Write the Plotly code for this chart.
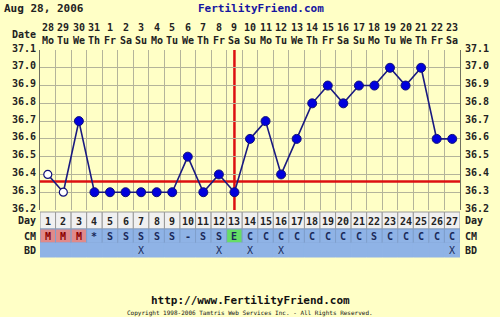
import plotly.graph_objects as go

days = list(range(1, 28))
dates = ["28", "29", "30", "31", "1", "2", "3", "4", "5", "6", "7", "8", "9", "10",
         "11", "12", "13", "14", "15", "16", "17", "18", "19", "20", "21", "22", "23"]
weekdays = (["Mo", "Tu", "We", "Th", "Fr", "Sa", "Su"] * 4)[:27]
temps = [36.4, 36.3, 36.7, 36.3, 36.3, 36.3, 36.3, 36.3, 36.3, 36.5, 36.3, 36.4, 36.3,
         36.6, 36.7, 36.4, 36.6, 36.8, 36.9, 36.8, 36.9, 36.9, 37.0, 36.9, 37.0, 36.6, 36.6]
open_days = [1, 2]
cm = ["M", "M", "M", "*", "S", "S", "S", "S", "S", "-", "S", "S", "E", "C", "C", "C",
      "C", "C", "C", "C", "C", "S", "C", "C", "C", "C", "C"]
bd = ["", "", "", "", "", "", "X", "", "", "", "", "X", "", "X", "", "X", "", "", "",
      "", "", "", "", "", "", "", "X"]
ytick_vals = [37.1, 37.0, 36.9, 36.8, 36.7, 36.6, 36.5, 36.4, 36.3, 36.2]
coverline = 36.36
ovulation_day = 13

W, H = 500, 317
ML, MR, MT, MB = 40, 40, 50, 60
PW, PH = W - ML - MR, H - MT - MB
def py(p):  # pixel y -> paper y
    return (H - MB - p) / PH
def px(p):
    return (p - ML) / PW

FONT = "DejaVu Sans Mono"
TXT = "#222222"

def ann(x, y, text, xref="paper", yref="paper", xanchor="center", size=10, color=TXT, yshift=0):
    return dict(x=x, y=y, xref=xref, yref=yref, text=text, showarrow=False,
                xanchor=xanchor, yanchor="middle", yshift=yshift,
                font=dict(family=FONT, size=size, color=color))

fig = go.Figure()
fig.add_trace(go.Scatter(x=days, y=temps, mode="lines",
                         line=dict(color="#1a1a80", width=1.6), hoverinfo="skip"))
filled_x = [d for d in days if d not in open_days]
filled_y = [temps[d - 1] for d in filled_x]
fig.add_trace(go.Scatter(x=filled_x, y=filled_y, mode="markers",
                         marker=dict(size=9, color="#0000dd", line=dict(color="#10107a", width=1))))
fig.add_trace(go.Scatter(x=open_days, y=[temps[d - 1] for d in open_days], mode="markers",
                         marker=dict(size=8, color="#ffffff", line=dict(color="#10107a", width=1.2))))

shapes = []
shapes.append(dict(type="line", xref="x", yref="y", x0=0.5, x1=27.5, y0=coverline, y1=coverline,
                   line=dict(color="#dd1010", width=2.5), layer="between"))
shapes.append(dict(type="line", xref="x", yref="paper", x0=ovulation_day, x1=ovulation_day,
                   y0=py(210), y1=1, line=dict(color="#dd1010", width=2.5), layer="between"))

rows = [(212, 229, "Day"), (229, 243, "CM"), (243, 257, "BD")]
annotations = []
for i, d in enumerate(days):
    x0, x1 = d - 0.5, d + 0.5
    shapes.append(dict(type="rect", xref="x", yref="paper", x0=x0, x1=x1, y0=py(229), y1=py(212),
                       fillcolor="#f0f0f0", line=dict(color="#9a9a9a", width=1), layer="above"))
    c = cm[i]
    fill = "#8fb3e6"
    if c == "M":
        fill = "#e08a8a"
    elif c == "E":
        fill = "#66dd66"
    shapes.append(dict(type="rect", xref="x", yref="paper", x0=x0, x1=x1, y0=py(243), y1=py(229),
                       fillcolor=fill, line=dict(color="#7f9fcc", width=1), layer="above"))
    shapes.append(dict(type="rect", xref="x", yref="paper", x0=x0, x1=x1, y0=py(257), y1=py(243),
                       fillcolor="#8fb3e6", line=dict(color="#8fb3e6", width=1), layer="above"))
    annotations.append(ann(d, py(221), "<b>%d</b>" % d, xref="x"))
    annotations.append(ann(d, py(236), "<b>%s</b>" % c, xref="x",
                           color="#8b0000" if c == "M" else "#1a2a5a"))
    if bd[i]:
        annotations.append(ann(d, py(250), bd[i], xref="x", color="#1a2a5a"))
    annotations.append(ann(d, py(28), "<b>%s</b>" % dates[i], xref="x"))
    annotations.append(ann(d, py(40), "<b>%s</b>" % weekdays[i], xref="x"))

for v in ytick_vals:
    annotations.append(ann(px(38), v, "<b>%.1f</b>" % v, yref="y", xanchor="right", yshift=2))
    annotations.append(ann(px(463), v, "<b>%.1f</b>" % v, yref="y", xanchor="left", yshift=2))
for y0, y1, lab in rows:
    yc = (y0 + y1) / 2
    annotations.append(ann(px(38), py(yc), "<b>%s</b>" % lab, xanchor="right"))
    annotations.append(ann(px(463), py(yc), "<b>%s</b>" % lab, xanchor="left"))

annotations.append(ann(px(38), py(34), "<b>Date</b>", xanchor="right"))
annotations.append(ann(px(2), py(8), "<b>Aug 28, 2006</b>", xanchor="left", size=11))
annotations.append(ann(px(261), py(8), "<b>FertilityFriend.com</b>", size=11, color="#1515a0"))
annotations.append(ann(px(250), py(300), "<b>http://www.FertilityFriend.com</b>", size=11, color="#111111"))
annotations.append(ann(px(250), py(313),
                       "Copyright 1998-2006 Tamtris Web Services Inc. - All Rights Reserved.",
                       size=6, color="#111111"))

fig.update_layout(
    width=W, height=H, autosize=False,
    margin=dict(l=ML, r=MR, t=MT, b=MB, pad=0),
    paper_bgcolor="#ffffc6", plot_bgcolor="#ffffc6",
    showlegend=False, shapes=shapes, annotations=annotations,
    xaxis=dict(range=[0.5, 27.5], tickvals=[d + 0.5 for d in range(0, 28)], showticklabels=False,
               showgrid=True, gridcolor="#b4b49a", gridwidth=1, zeroline=False, ticks="",
               showline=False, fixedrange=True),
    yaxis=dict(range=[36.2, 37.1], domain=[py(210), 1], dtick=0.1, tick0=36.2, showticklabels=False,
               showgrid=True, gridcolor="#b4b49a", gridwidth=1, zeroline=False, ticks="",
               showline=True, linecolor="#707060", mirror=True, fixedrange=True),
)
fig.write_html("out.html")
